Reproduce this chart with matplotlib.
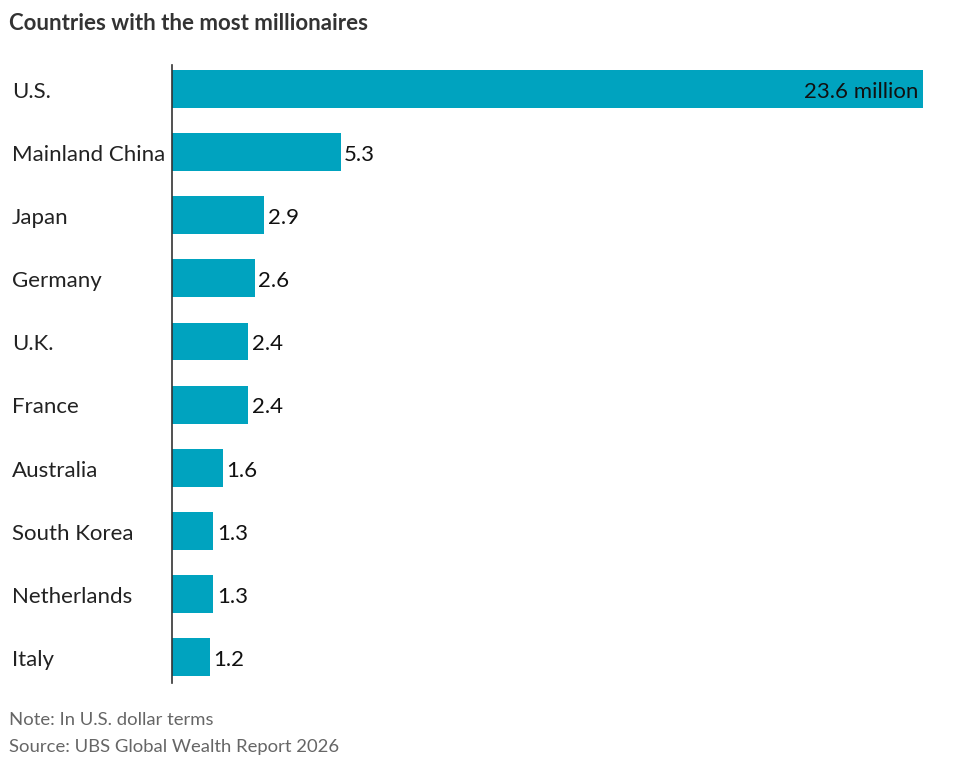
import matplotlib
matplotlib.use('Agg')
import matplotlib.pyplot as plt

countries = ['U.S.', 'Mainland China', 'Japan', 'Germany', 'U.K.', 'France',
             'Australia', 'South Korea', 'Netherlands', 'Italy']
millionaires = [23.6, 5.3, 2.9, 2.6, 2.4, 2.4, 1.6, 1.3, 1.3, 1.2]
value_labels = ['23.6 million', '5.3', '2.9', '2.6', '2.4', '2.4', '1.6', '1.3', '1.3', '1.2']

plt.rcParams['font.family'] = ['Lato', 'DejaVu Sans']

W, H = 970, 766
fig = plt.figure(figsize=(W / 100, H / 100), dpi=100)
ax = fig.add_axes([172 / W, 1 - 683 / H, (923 - 172) / W, (683 - 65) / H])

ypos = list(range(len(countries)))
ax.barh(ypos, millionaires, height=0.6, color='#00A3BF', zorder=2)
ax.set_xlim(0, 23.6)
ax.set_ylim(9.41, -0.38)

# value labels
for y, v, lab in zip(ypos, millionaires, value_labels):
    if y == 0:
        ax.annotate(lab, (v, y), xytext=(-3, -2), textcoords='offset points',
                    ha='right', va='center', fontsize=16, color='#111111')
    else:
        ax.annotate(lab, (v, y), xytext=(2.5, -2), textcoords='offset points',
                    ha='left', va='center', fontsize=16, color='#111111')

# country names at the left edge of the figure
for y, name in zip(ypos, countries):
    ax.annotate(name, (0, y), xycoords=('figure fraction', 'data'),
                xytext=(8.6, -2), textcoords='offset points',
                ha='left', va='center', fontsize=16, color='#222222')

ax.set_xticks([])
ax.set_yticks([])
for s in ['top', 'right', 'bottom']:
    ax.spines[s].set_visible(False)
ax.spines['left'].set_color('#333333')
ax.spines['left'].set_linewidth(1.2)
ax.spines['left'].set_zorder(3)

fig.text(9 / W, 1 - 23 / H, 'Countries with the most millionaires', fontsize=16,
         fontweight='bold', color='#333333', ha='left', va='center')
fig.text(9 / W, 1 - 720 / H, 'Note: In U.S. dollar terms', fontsize=13.3,
         color='#666666', ha='left', va='center')
fig.text(9 / W, 1 - 747 / H, 'Source: UBS Global Wealth Report 2026', fontsize=13.3,
         color='#666666', ha='left', va='center')

fig.savefig('out.png', dpi=100, facecolor='white')
